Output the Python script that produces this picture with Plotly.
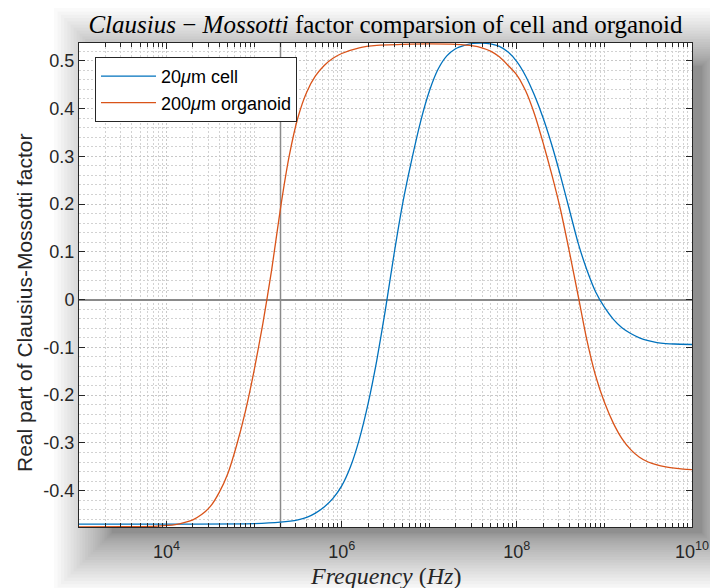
import plotly.graph_objects as go

# ---------------- data ----------------
cell_exp = [3.0, 4.0, 5.0, 5.3, 5.5, 5.6, 5.7, 5.8, 5.9, 6.0, 6.1, 6.2, 6.3, 6.4, 6.5,
            6.6, 6.7, 6.8, 6.9, 7.0, 7.1, 7.2, 7.3, 7.4, 7.5, 7.6, 7.7, 7.8, 7.9, 8.0,
            8.1, 8.2, 8.3, 8.4, 8.5, 8.6, 8.7, 8.8, 8.9, 9.0, 9.1, 9.2, 9.3, 9.4, 9.5,
            9.6, 9.7, 9.8, 10.0]
cell_cm = [-0.470, -0.470, -0.469, -0.466, -0.461, -0.456, -0.447, -0.434, -0.416, -0.390,
           -0.350, -0.293, -0.219, -0.128, -0.020, 0.098, 0.205, 0.293, 0.372, 0.436,
           0.482, 0.510, 0.525, 0.532, 0.536, 0.537, 0.535, 0.530, 0.518, 0.498,
           0.468, 0.428, 0.380, 0.323, 0.258, 0.188, 0.118, 0.062, 0.016, -0.016,
           -0.041, -0.059, -0.071, -0.080, -0.086, -0.090, -0.092, -0.093, -0.094]

org_exp = [3.0, 3.5, 3.9, 4.1, 4.2, 4.3, 4.4, 4.5, 4.6, 4.7, 4.8, 4.9, 5.0, 5.1, 5.2,
           5.3, 5.4, 5.5, 5.6, 5.7, 5.8, 5.9, 6.0, 6.2, 6.4, 6.7, 7.0, 7.3, 7.5, 7.6,
           7.7, 7.8, 7.9, 8.0, 8.1, 8.2, 8.3, 8.4, 8.5, 8.6, 8.7, 8.8, 8.9, 9.0, 9.1,
           9.2, 9.3, 9.4, 9.5, 9.6, 9.7, 9.8, 9.9, 10.0]
org_cm = [-0.476, -0.4755, -0.474, -0.471, -0.467, -0.461, -0.450, -0.433, -0.404, -0.364,
          -0.305, -0.234, -0.148, -0.050, 0.062, 0.190, 0.300, 0.381, 0.434, 0.468,
          0.490, 0.505, 0.515, 0.527, 0.532, 0.534, 0.535, 0.534, 0.531, 0.527,
          0.520, 0.508, 0.490, 0.470, 0.437, 0.389, 0.328, 0.261, 0.187, 0.100,
          0.008, -0.085, -0.160, -0.215, -0.258, -0.291, -0.314, -0.330, -0.340,
          -0.346, -0.350, -0.353, -0.355, -0.356]

series_names = ["20<i>μ</i>m cell", "200<i>μ</i>m organoid"]
series_colors = ["#0072BD", "#D95319"]

ref_freq = 2e5          # vertical reference line
x_exp_range = [3, 10]
y_range = [-0.476, 0.537]
y_ticks = [-0.4, -0.3, -0.2, -0.1, 0, 0.1, 0.2, 0.3, 0.4, 0.5]
y_ticklabels = ["-0.4", "-0.3", "-0.2", "-0.1", "0", "0.1", "0.2", "0.3", "0.4", "0.5"]
x_labeled = [4, 6, 8, 10]
x_unlabeled = [3, 5, 7, 9]

title_text = "<i>Clausius</i> − <i>Mossotti</i> factor comparsion of cell and organoid"
xlabel_text = "<i>Frequency</i> (<i>Hz</i>)"
ylabel_text = "Real part of Clausius-Mossotti factor"

# ---------------- figure ----------------
W, H = 710, 588
L, R, T, B = 79, 18, 43, 61
PW, PH = W - L - R, H - T - B

def px2x(px):
    return (px - L) / PW

def py2y(py):
    return (H - B - py) / PH

fig = go.Figure()

# vertical reference line
fig.add_trace(go.Scatter(x=[ref_freq, ref_freq], y=y_range, mode="lines",
                         line=dict(color="#8a8a8a", width=1.5), showlegend=False,
                         hoverinfo="skip"))

for ex, ys, name, col in [(cell_exp, cell_cm, series_names[0], series_colors[0]),
                          (org_exp, org_cm, series_names[1], series_colors[1])]:
    fig.add_trace(go.Scatter(x=[10 ** e for e in ex], y=ys, mode="lines", name=name,
                             line=dict(color=col, width=1.3, shape="spline", smoothing=0.6)))

# soft drop-shadow around the axes box
shapes = []
core = [112, 66, 702, 533]
N = 26
for i in range(N):
    e = 58 * (i / (N - 1)) ** 1.5
    shapes.append(dict(type="rect", xref="paper", yref="paper", layer="below",
                       x0=px2x(core[0] - e), x1=px2x(core[2] + e),
                       y0=py2y(core[3] + e), y1=py2y(core[1] - e),
                       fillcolor="rgba(0,0,0,0.02)", line=dict(width=0)))
shapes.append(dict(type="rect", xref="paper", yref="paper", layer="below",
                   x0=0, x1=1, y0=0, y1=1, fillcolor="white", line=dict(width=0)))

minor_x = [k * 10 ** d for d in range(3, 10) for k in range(2, 10)]
axis_col = "#262626"
tick_font = dict(family="Liberation Sans, Arial", size=18, color=axis_col)

fig.update_layout(
    width=W, height=H,
    margin=dict(l=L, r=R, t=T, b=B, autoexpand=False),
    paper_bgcolor="white", plot_bgcolor="white",
    shapes=shapes,
    showlegend=True,
    legend=dict(x=px2x(95), y=py2y(57), xanchor="left", yanchor="top",
                bgcolor="white", bordercolor=axis_col, borderwidth=1,
                font=dict(family="Liberation Sans, Arial", size=18, color="#000000"),
                itemwidth=55, tracegroupgap=0),
    title=dict(text=title_text, x=0.5, xref="paper", xanchor="center",
               y=1 - 24 / H, yref="container", yanchor="middle",
               font=dict(family="Liberation Serif, serif", size=25, color="#000000")),
    xaxis=dict(type="log", range=x_exp_range, showline=True, linecolor=axis_col,
               linewidth=1, mirror="allticks", ticks="inside", ticklen=6,
               tickcolor=axis_col, tickvals=[10 ** d for d in x_labeled],
               ticktext=["10<sup>%d</sup>" % d for d in x_labeled],
               tickfont=tick_font, ticklabelstandoff=8,
               showgrid=True, gridcolor="#c8c8c8", griddash="2px,2px", gridwidth=1,
               zeroline=False,
               minor=dict(tickvals=minor_x + [10 ** d for d in x_unlabeled],
                          ticks="inside", ticklen=4, tickcolor=axis_col,
                          showgrid=True, gridcolor="#d2d2d2", griddash="2px,2px")),
    yaxis=dict(range=y_range, showline=True, linecolor=axis_col, linewidth=1,
               mirror="allticks", ticks="inside", ticklen=6, tickcolor=axis_col,
               tickvals=y_ticks, ticktext=y_ticklabels, tickfont=tick_font,
               showgrid=True, gridcolor="#c8c8c8", griddash="2px,2px", gridwidth=1,
               zeroline=True, zerolinecolor="#8a8a8a", zerolinewidth=1.5,
               minor=dict(tickmode="linear", tick0=0, dtick=0.02, ticks="",
                          showgrid=True, gridcolor="#d2d2d2", griddash="2px,2px")),
    annotations=[
        dict(text=xlabel_text, xref="paper", yref="paper", x=0.5, y=py2y(576),
             xanchor="center", yanchor="middle", showarrow=False,
             font=dict(family="Liberation Serif, serif", size=24, color="#262626")),
        dict(text=ylabel_text, xref="paper", yref="paper", x=px2x(24), y=py2y(303),
             xanchor="center", yanchor="middle", textangle=-90, showarrow=False,
             font=dict(family="Liberation Sans, Arial", size=21, color="#262626")),
    ],
)

fig.write_html("out.html")
